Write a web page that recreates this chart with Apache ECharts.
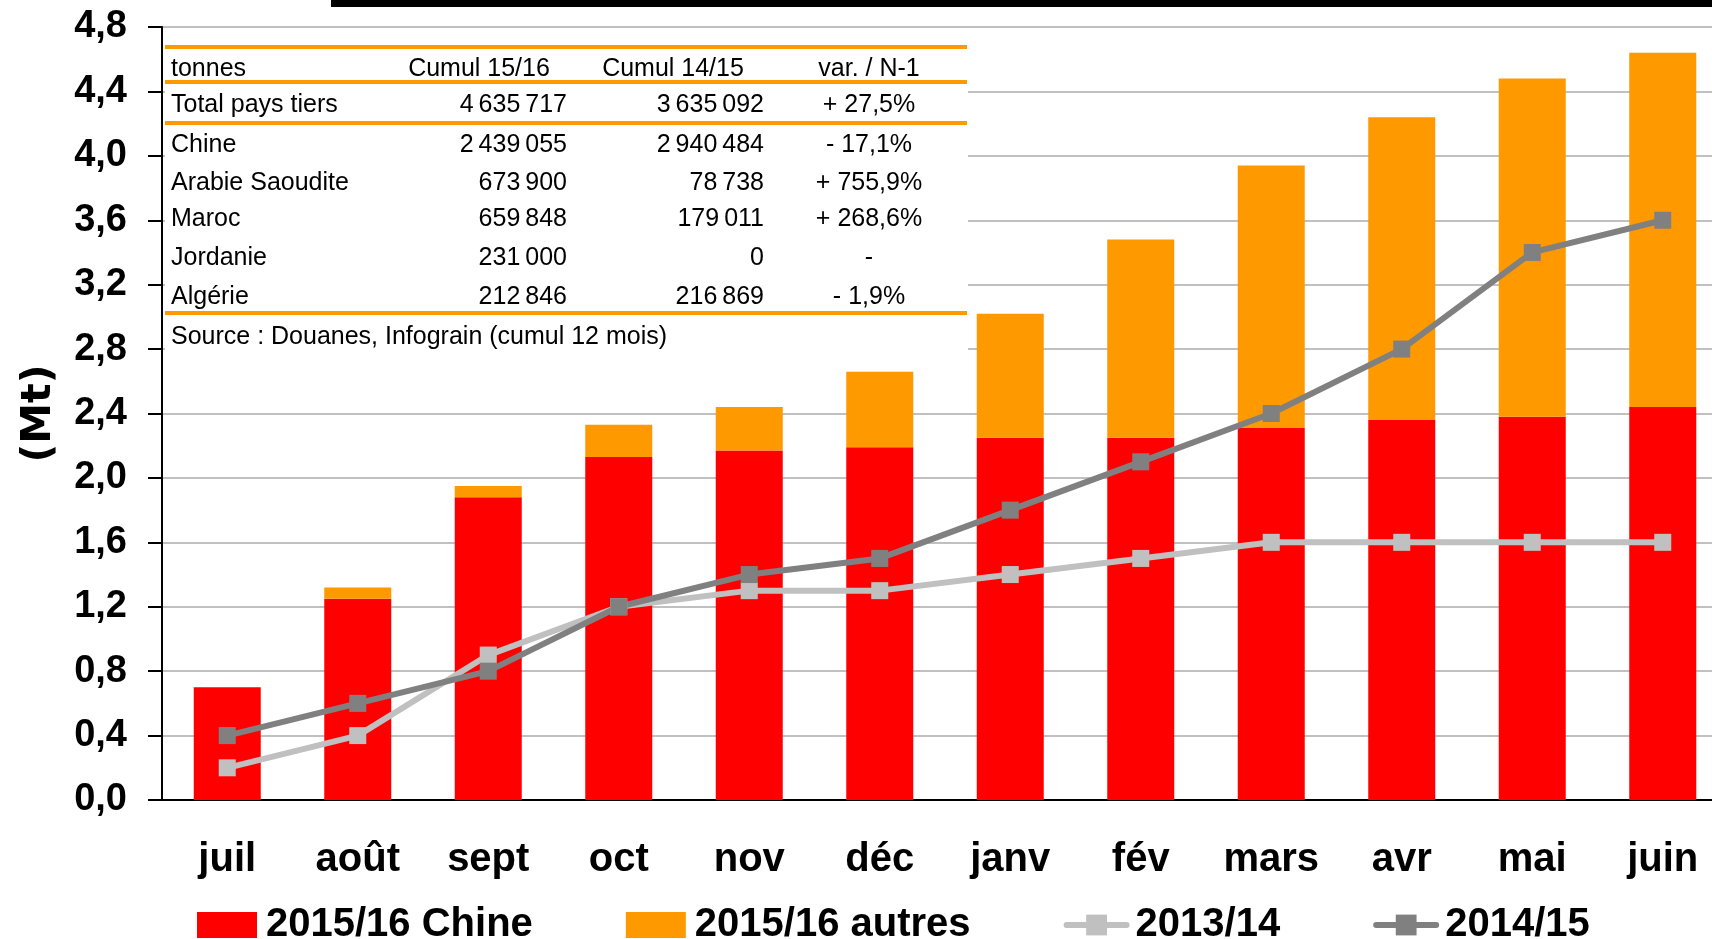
<!DOCTYPE html>
<html>
<head>
<meta charset="utf-8">
<script src="https://cdn.jsdelivr.net/npm/echarts@6.0.0/dist/echarts.min.js"></script>
<style>
  html, body { margin: 0; padding: 0; background: #fff; }
  #chart { width: 1712px; height: 939px; }
</style>
</head>
<body>
<div id="chart"></div>
<script>
// mois de la campagne
const months = ['juil', 'août', 'sept', 'oct', 'nov', 'déc', 'janv', 'fév', 'mars', 'avr', 'mai', 'juin'];

// cumuls en Mt
const chine1516 = [0.70, 1.25, 1.88, 2.13, 2.17, 2.19, 2.25, 2.25, 2.31, 2.36, 2.38, 2.44];
const autres1516 = [0, 0.07, 0.07, 0.20, 0.27, 0.47, 0.77, 1.23, 1.63, 1.88, 2.10, 2.20];
const total1314 = [0.2, 0.4, 0.9, 1.2, 1.3, 1.3, 1.4, 1.5, 1.6, 1.6, 1.6, 1.6];
const total1415 = [0.4, 0.6, 0.8, 1.2, 1.4, 1.5, 1.8, 2.1, 2.4, 2.8, 3.4, 3.6];

// tableau incrusté
const tableHeader = ['tonnes', 'Cumul 15/16', 'Cumul 14/15', 'var. / N-1'];
const tableNames = ['Total pays tiers', 'Chine', 'Arabie Saoudite', 'Maroc', 'Jordanie', 'Algérie'];
const tableCumul1516 = ['4\u202f635\u202f717', '2\u202f439\u202f055', '673\u202f900', '659\u202f848', '231\u202f000', '212\u202f846'];
const tableCumul1415 = ['3\u202f635\u202f092', '2\u202f940\u202f484', '78\u202f738', '179\u202f011', '0', '216\u202f869'];
const tableVar = ['+ 27,5%', '- 17,1%', '+ 755,9%', '+ 268,6%', '-', '- 1,9%'];
const tableSource = 'Source : Douanes, Infograin (cumul 12 mois)';

const bold = "'Liberation Sans', Arial, sans-serif";
const orange = '#FF9900';

function buildTable() {
  const font = { fontFamily: "'Liberation Sans', Arial, sans-serif", fontSize: 25, fill: '#000' };
  const rowY = [105, 145, 183, 219, 258, 297];
  const items = [];
  // fond blanc qui masque le quadrillage
  items.push({ type: 'rect', z: 100, shape: { x: 165, y: 33, width: 803, height: 329 }, style: { fill: '#fff' } });
  [47, 82, 123, 313].forEach(function (y) {
    items.push({ type: 'rect', z: 101, shape: { x: 165, y: y - 2, width: 802, height: 4 }, style: { fill: orange } });
  });
  const cell = (t, x, y, align) => ({
    type: 'text', z: 101, x: x, y: y,
    style: Object.assign({ text: t, textAlign: align, textVerticalAlign: 'middle' }, font)
  });
  items.push(cell(tableHeader[0], 171, 69, 'left'));
  items.push(cell(tableHeader[1], 479, 69, 'center'));
  items.push(cell(tableHeader[2], 673, 69, 'center'));
  items.push(cell(tableHeader[3], 869, 69, 'center'));
  tableNames.forEach(function (name, i) {
    items.push(cell(name, 171, rowY[i], 'left'));
    items.push(cell(tableCumul1516[i], 567, rowY[i], 'right'));
    items.push(cell(tableCumul1415[i], 764, rowY[i], 'right'));
    items.push(cell(tableVar[i], 869, rowY[i], 'center'));
  });
  items.push(cell(tableSource, 171, 337, 'left'));
  return items;
}

const chart = echarts.init(document.getElementById('chart'));

const option = {
  animation: false,
  grid: { left: 162, top: 27, width: 1566, height: 773, outerBoundsMode: 'none' },
  legend: {
    left: 192,
    top: 900,
    itemWidth: 60,
    itemHeight: 26,
    itemGap: 93,
    lineStyle: { width: 6, cap: 'round' },
    textStyle: { fontFamily: bold, fontWeight: 'bold', fontSize: 40, color: '#000', padding: [0, 0, 0, 4] },
    data: [
      { name: '2015/16 Chine', icon: 'rect' },
      { name: '2015/16 autres', icon: 'rect' },
      '2013/14',
      '2014/15'
    ]
  },
  xAxis: {
    type: 'category',
    data: months,
    axisLine: { lineStyle: { color: '#000', width: 2 } },
    axisTick: { length: 13, lineStyle: { color: '#000', width: 2 } },
    axisLabel: { fontFamily: bold, fontWeight: 'bold', fontSize: 40, color: '#000', margin: 40, interval: 0 }
  },
  yAxis: {
    type: 'value',
    min: 0,
    max: 4.8,
    interval: 0.4,
    name: '(Mt)',
    nameLocation: 'middle',
    nameRotate: 90,
    nameGap: 102,
    nameTextStyle: { fontFamily: "'DejaVu Sans', sans-serif", fontWeight: 'bold', fontSize: 41, color: '#000' },
    axisLine: { show: true, lineStyle: { color: '#000', width: 2 } },
    axisTick: { show: true, length: 14, lineStyle: { color: '#000', width: 2 } },
    splitLine: { lineStyle: { color: '#C0C0C0', width: 2 } },
    axisLabel: {
      fontFamily: bold,
      fontWeight: 'bold',
      fontSize: 38,
      color: '#000',
      margin: 35,
      formatter: v => v.toFixed(1).replace('.', ',')
    }
  },
  graphic: [
    { type: 'rect', z: 100, shape: { x: 331, y: 0, width: 1381, height: 7 }, style: { fill: '#000' } }
  ].concat(buildTable()),
  series: [
    { name: '2015/16 Chine', type: 'bar', stack: 'c', barWidth: 67, itemStyle: { color: '#FF0000' }, data: chine1516 },
    { name: '2015/16 autres', type: 'bar', stack: 'c', barWidth: 67, itemStyle: { color: orange }, data: autres1516 },
    {
      name: '2013/14', type: 'line', data: total1314, symbol: 'rect', symbolSize: 17,
      lineStyle: { color: '#C0C0C0', width: 6 }, itemStyle: { color: '#C0C0C0' }
    },
    {
      name: '2014/15', type: 'line', data: total1415, symbol: 'rect', symbolSize: 17,
      lineStyle: { color: '#808080', width: 6 }, itemStyle: { color: '#808080' }
    }
  ]
};

chart.setOption(option);
</script>
</body>
</html>
